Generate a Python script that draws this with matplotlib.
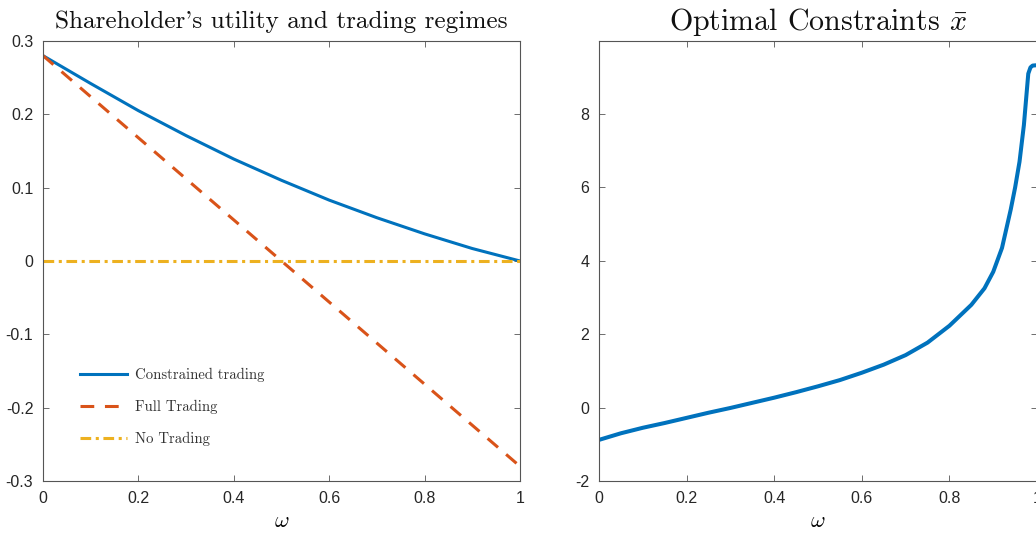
import matplotlib
matplotlib.use("Agg")
import matplotlib.pyplot as plt
from matplotlib.ticker import FuncFormatter

plt.rcParams['mathtext.fontset'] = 'cm'
plt.rcParams['font.family'] = ['Liberation Sans', 'DejaVu Sans']

# left panel: shareholder utility
omega_u = [0.0, 0.1, 0.2, 0.3, 0.4, 0.5, 0.6, 0.7, 0.8, 0.9, 1.0]
constrained = [0.28, 0.242, 0.205, 0.171, 0.139, 0.110, 0.083, 0.059, 0.037, 0.017, 0.0]
full_trading = [0.28, -0.28]
full_omega = [0.0, 1.0]
no_trading = [0.0, 0.0]

# right panel: optimal constraint x bar
omega_x = [0.0, 0.05, 0.1, 0.15, 0.2, 0.25, 0.3, 0.35, 0.4, 0.45, 0.5, 0.55, 0.6, 0.65,
           0.7, 0.75, 0.8, 0.85, 0.88, 0.9, 0.92, 0.94, 0.95, 0.96, 0.97, 0.975,
           0.98, 0.985, 0.99, 1.0]
xbar = [-0.88, -0.70, -0.55, -0.42, -0.28, -0.14, -0.01, 0.13, 0.27, 0.42, 0.58, 0.75,
        0.95, 1.17, 1.43, 1.77, 2.23, 2.80, 3.25, 3.70, 4.35, 5.40, 6.00, 6.70, 7.70,
        8.40, 9.10, 9.27, 9.32, 9.33]

BLUE = '#0072BD'
ORANGE = '#D95319'
YELLOW = '#EDB120'
AXC = '#555555'
TXT = '#262626'


def matlab_fmt(v, pos):
    s = f"{v:.1f}" if abs(v - round(v)) > 1e-9 else f"{int(round(v))}"
    return s.replace('\u2212', '-')


def style(ax):
    for sp in ax.spines.values():
        sp.set_color(AXC)
        sp.set_linewidth(0.8)
    ax.tick_params(direction='in', length=4, width=0.6, color=AXC, labelcolor=TXT,
                   labelsize=11.5, top=True, right=True, pad=7)
    ax.xaxis.set_major_formatter(FuncFormatter(matlab_fmt))
    ax.yaxis.set_major_formatter(FuncFormatter(matlab_fmt))
    ax.set_xlabel(r'$\omega$', fontsize=16, labelpad=4)


fig = plt.figure(figsize=(10.36, 5.40), dpi=100)
ax1 = fig.add_axes([0.0415, 0.1093, 0.4604, 0.8148])
ax2 = fig.add_axes([0.5782, 0.1093, 0.4228, 0.8148])

ax1.plot(omega_u, constrained, color=BLUE, lw=2.2, label='Constrained trading')
ax1.plot(full_omega, full_trading, color=ORANGE, lw=2.2, ls=(0, (4.5, 3.5)), label='Full Trading')
ax1.plot(full_omega, no_trading, color=YELLOW, lw=2.2, ls=(0, (3.5, 1.5, 1, 1.5)), label='No Trading')
ax1.set_xlim(0, 1)
ax1.set_ylim(-0.3, 0.3)
ax1.set_xticks([0, 0.2, 0.4, 0.6, 0.8, 1])
ax1.set_yticks([-0.3, -0.2, -0.1, 0, 0.1, 0.2, 0.3])
style(ax1)
ax1.set_title("Shareholder's utility and trading regimes", family=['cmr10', 'DejaVu Serif'],
              fontsize=18.2, color='#111111', pad=9)
leg = ax1.legend(loc='lower left', bbox_to_anchor=(0.05, 0.05), frameon=False,
                 prop={'family': 'cmr10', 'size': 10.6}, handlelength=3.2,
                 handletextpad=0.5, labelspacing=1.2, labelcolor='#333333')

ax2.plot(omega_x, xbar, color=BLUE, lw=2.9)
ax2.set_xlim(0, 1)
ax2.set_ylim(-2, 9.99)
ax2.set_xticks([0, 0.2, 0.4, 0.6, 0.8, 1])
ax2.set_yticks([-2, 0, 2, 4, 6, 8])
style(ax2)
ax2.set_title(r"Optimal Constraints $\bar{x}$", family='cmr10', fontsize=21.6,
              color='#111111', pad=8)

fig.savefig('out.png', dpi=100)
